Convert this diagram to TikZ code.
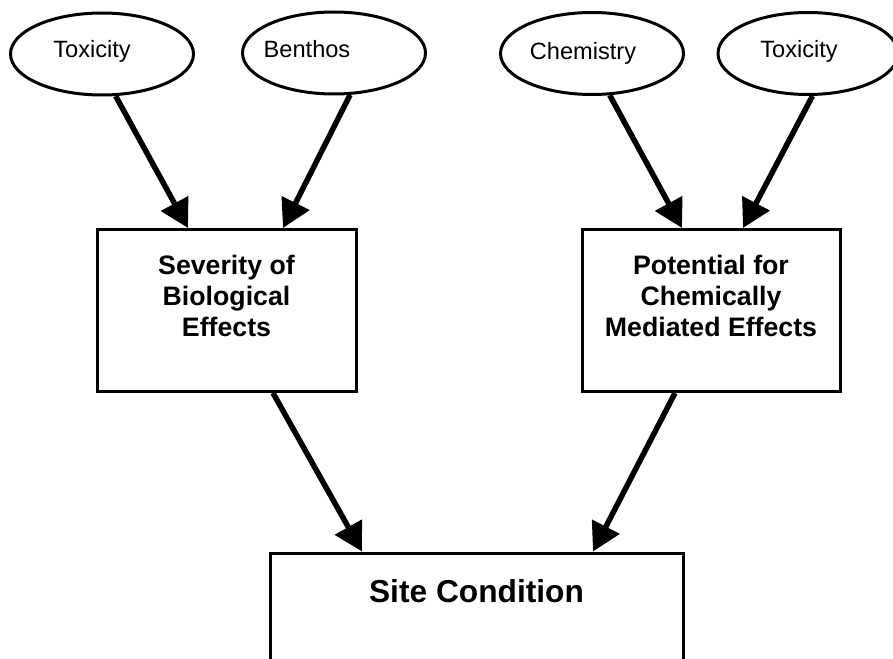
\documentclass[tikz,border=0pt]{standalone}
\usepackage{fontspec}
\setmainfont{Liberation Sans}
\usetikzlibrary{shapes.geometric, arrows.meta}
\tikzset{
  oval/.style={draw, ellipse, line width=3pt, minimum width=183pt, minimum height=82pt, inner sep=0pt}, % inputs
  ovaltext/.style={font=\fontsize{23.6}{28}\selectfont, inner sep=0pt, anchor=base},
  box/.style={draw, rectangle, line width=3pt, minimum width=#1, minimum height=162pt, inner sep=0pt}, % results
  box/.default=259pt,
  boxtext/.style={font=\bfseries\fontsize{26.7}{31}\selectfont, align=center, inner sep=0pt, anchor=north},
  flow/.style={line width=5.5pt, -{Triangle[length=28pt,width=30pt]}} % arrows
}

\begin{document}
\begin{tikzpicture}[x=1pt, y=-1pt]
\useasboundingbox (0,0) rectangle (893,658);
\clip (0,0) rectangle (893,658);

% % inputs
\node[oval] (toxA) at (102,54) {};
\node[ovaltext] (toxAtxt) at ([xshift=-10pt,yshift=-4pt]toxA.center) {Toxicity};
\node[oval] (benthos) at (334,53) {};
\node[ovaltext] (benthostxt) at ([xshift=-27pt,yshift=-5pt]benthos.center) {Benthos};
\node[oval] (chem) at (592,53.5) {};
\node[ovaltext] (chemtxt) at ([xshift=-9pt,yshift=-6.5pt]chem.center) {Chemistry};
\node[oval, minimum width=180pt] (toxB) at (808,53.5) {};
\node[ovaltext] (toxBtxt) at ([xshift=-9pt,yshift=-4.5pt]toxB.center) {Toxicity};

% % boxes
\node[box] (sev) at (226.5,310.5) {};
\node[boxtext] (sevtxt) at ([yshift=-26.5pt]sev.north) {Severity of\\Biological\\Effects};
\node[box=258pt] (pot) at (711,310.5) {};
\node[boxtext] (pottxt) at ([yshift=-26.5pt]pot.north) {Potential for\\Chemically\\Mediated Effects};
\node[box=413pt, minimum height=200pt] (site) at (476.5,653) {};
\node[boxtext, font=\bfseries\fontsize{31.7}{36}\selectfont] (sitetxt) at ([yshift=-28pt]site.north) {Site Condition};

% Pfeile
\draw[flow] (toxA.-72) -- ([xshift=-38.5pt]sev.north);
\draw[flow] (benthos.-69) -- ([xshift=56.5pt]sev.north);
\draw[flow] (chem.-67.5) -- ([xshift=-29pt]pot.north);
\draw[flow] (toxB.-84.6) -- ([xshift=32pt]pot.north);
\draw[flow] ([xshift=46.5pt]sev.south) -- ([xshift=-114.5pt]site.north);
\draw[flow] ([xshift=-36pt]pot.south) -- ([xshift=116.5pt]site.north);

\end{tikzpicture}
\end{document}
